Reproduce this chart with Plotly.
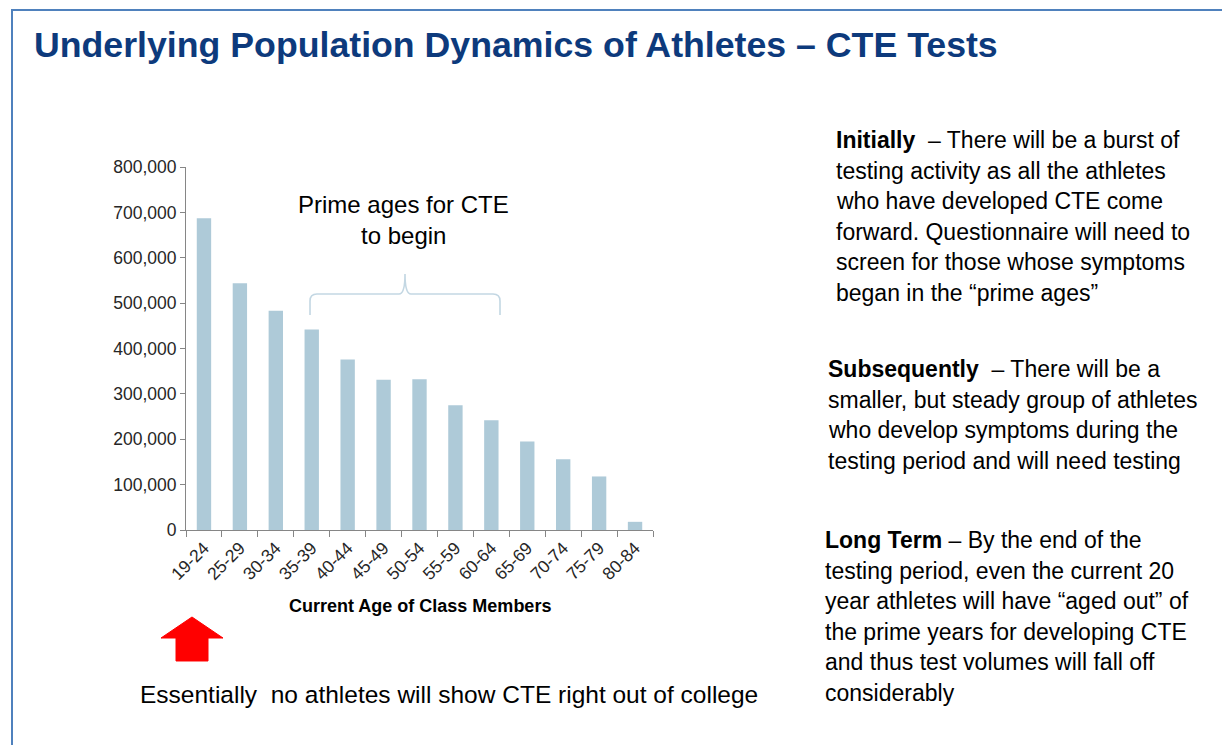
import plotly.graph_objects as go

# the page has an 8px body margin, so the figure is drawn 8px in and everything
# below is given in reference-picture pixels and shifted back
OFF = 8
W, H = 1230 - OFF, 745 - OFF

# chart data
age_groups = ["19-24", "25-29", "30-34", "35-39", "40-44", "45-49", "50-54",
              "55-59", "60-64", "65-69", "70-74", "75-79", "80-84"]
class_members = [687000, 544000, 483000, 442000, 376000, 331000, 332000,
                 275000, 242000, 195000, 156000, 118000, 18000]

title_text = "Underlying Population Dynamics of Athletes \u2013 CTE Tests"
prime_lines = ["Prime ages for CTE", "to begin"]
bottom_note = "Essentially  no athletes will show CTE right out of college"

initially_lines = [
    "<b>Initially </b> \u2013 There will be a burst of",
    "testing activity as all the athletes",
    "who have developed CTE come",
    "forward. Questionnaire will need to",
    "screen for those whose symptoms",
    "began in the \u201cprime ages\u201d",
]
subsequently_lines = [
    "<b>Subsequently </b> \u2013 There will be a",
    "smaller, but steady group of athletes",
    "who develop symptoms during the",
    "testing period and will need testing",
]
longterm_lines = [
    "<b>Long Term</b> \u2013 By the end of the",
    "testing period, even the current 20",
    "year athletes will have \u201caged out\u201d of",
    "the prime years for developing CTE",
    "and thus test volumes will fall off",
    "considerably",
]


def px_x(x):
    return (x - OFF) / W


def px_y(y):
    return 1 - (y - OFF) / H


def path(points):
    # points: list of (cmd, x, y, ...) in pixels
    out = []
    for p in points:
        cmd = p[0]
        coords = p[1:]
        xy = []
        for i in range(0, len(coords), 2):
            xy.append(f"{px_x(coords[i]):.5f},{px_y(coords[i + 1]):.5f}")
        out.append(cmd + " " + " ".join(xy))
    return " ".join(out)


fig = go.Figure()
fig.add_trace(go.Bar(x=age_groups, y=class_members, marker_color="#AECAD8",
                     marker_line_width=0, hoverinfo="x+y"))

font = "Liberation Sans, Arial, sans-serif"
annotations = []
PAD = 3  # annotations sit a few px right of their anchor

annotations.append(dict(text=f"<b>{title_text}</b>", x=px_x(35 - PAD), y=px_y(45),
                        xanchor="left", yanchor="middle",
                        font=dict(size=35.7, color="#0D3A7C", family=font)))

for i, line in enumerate(prime_lines):
    annotations.append(dict(text=line, x=px_x(404), y=px_y(204 + 31 * i),
                            xanchor="center", yanchor="middle",
                            font=dict(size=24, color="#000000", family=font)))

annotations.append(dict(text="<b>Current Age of Class Members</b>", x=px_x(420), y=px_y(606),
                        xanchor="center", yanchor="middle",
                        font=dict(size=18, color="#000000", family=font)))

annotations.append(dict(text=bottom_note, x=px_x(141 - PAD), y=px_y(694),
                        xanchor="left", yanchor="middle",
                        font=dict(size=24.5, color="#000000", family=font)))

for lines, x0, y0 in [(initially_lines, 837, 140),
                      (subsequently_lines, 829, 369),
                      (longterm_lines, 826, 540)]:
    for i, line in enumerate(lines):
        annotations.append(dict(text=line, x=px_x(x0 - PAD), y=px_y(y0 + 30.6 * i),
                                xanchor="left", yanchor="middle",
                                font=dict(size=23, color="#000000", family=font)))

for a in annotations:
    a.update(xref="paper", yref="paper", showarrow=False)

shapes = []
# slide frame
shapes.append(dict(type="rect", xref="paper", yref="paper",
                   x0=px_x(12), y0=px_y(10), x1=px_x(1245), y1=px_y(760),
                   line=dict(color="#4F81BD", width=2)))
# curly brace over the prime ages
brace = path([("M", 310, 315), ("L", 310, 301), ("Q", 310, 294, 317, 294),
              ("L", 399, 294), ("Q", 405, 294, 405, 274), ("Q", 405, 294, 411, 294),
              ("L", 493, 294), ("Q", 500, 294, 500, 301), ("L", 500, 315)])
shapes.append(dict(type="path", xref="paper", yref="paper", path=brace,
                   line=dict(color="#C3D7E3", width=1.6)))
# red up arrow
arrow = path([("M", 192, 617), ("L", 223, 638), ("L", 208, 638), ("L", 208, 661),
              ("L", 176, 661), ("L", 176, 638), ("L", 161, 638), ("Z",)])
shapes.append(dict(type="path", xref="paper", yref="paper", path=arrow,
                   fillcolor="#FF0000", line=dict(color="#FF0000", width=1)))

axis_font = dict(size=17.5, color="#262626", family=font)
fig.update_layout(
    width=W, height=H,
    margin=dict(l=0, r=0, t=0, b=0),
    paper_bgcolor="white", plot_bgcolor="white",
    showlegend=False, bargap=0.6,
    annotations=annotations, shapes=shapes,
    xaxis=dict(domain=[px_x(186), px_x(653)], showline=True, linecolor="#868686",
               linewidth=1, ticks="outside", tickson="boundaries", ticklen=6,
               tickcolor="#868686", tickangle=-45, tickfont=axis_font,
               showgrid=False, automargin=False),
    yaxis=dict(domain=[px_y(530), px_y(167)], range=[0, 800000], dtick=100000,
               tickformat=",", showline=True, linecolor="#868686", linewidth=1,
               ticks="outside", ticklen=5, tickcolor="#868686", tickfont=axis_font,
               showgrid=False, zeroline=False, automargin=False),
)

fig.write_html("out.html")
